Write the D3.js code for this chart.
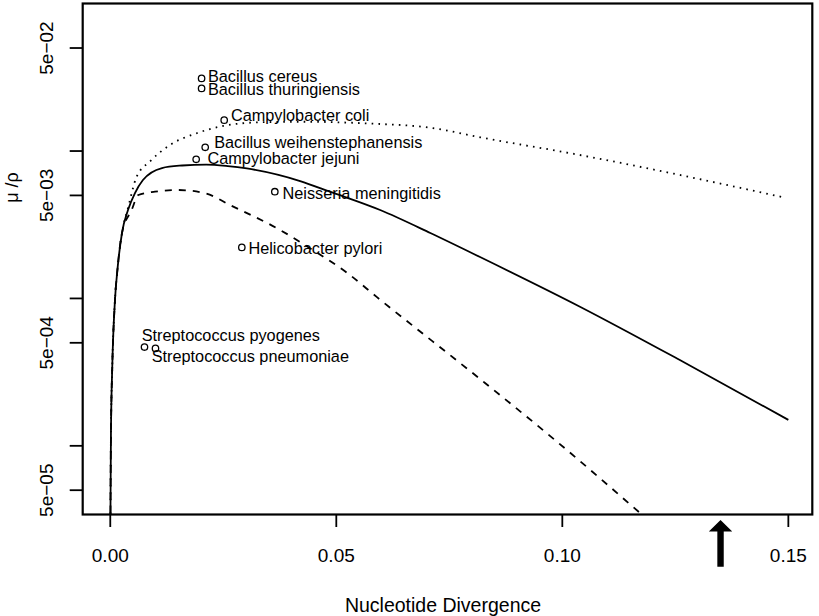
<!DOCTYPE html>
<html><head><meta charset="utf-8">
<script src="https://cdn.jsdelivr.net/npm/d3@7"></script>
<style>body{margin:0;background:#fff} svg{display:block}</style>
</head><body><svg id="c" width="819" height="616"></svg>
<script>
// ---- data ----
const solidDiv   = [0.00004,0.00015,0.00044,0.00104,0.00164,0.00259,0.00392,0.00546,0.00723,0.01144,0.0159,0.0212,0.0260,0.0302,0.0420,0.0486,0.0597,0.0708,0.0818,0.1039,0.1260,0.15];
const solidRatio = [3.45e-5,1.22e-4,3.43e-4,9.75e-4,1.63e-3,2.78e-3,3.98e-3,5.19e-3,6.36e-3,7.67e-3,7.98e-3,8.10e-3,7.91e-3,7.62e-3,6.26e-3,5.30e-3,3.98e-3,2.78e-3,1.91e-3,8.79e-4,3.82e-4,1.50e-4];

const dashedDiv   = [0.00004,0.00015,0.00044,0.00104,0.00164,0.00259,0.00473,0.0062,0.00989,0.01498,0.021,0.0265,0.0376,0.0448,0.0524,0.059,0.0829,0.0983,0.1172];
const dashedRatio = [3.45e-5,1.22e-4,3.43e-4,9.75e-4,1.63e-3,2.78e-3,3.98e-3,5.03e-3,5.30e-3,5.44e-3,5.17e-3,4.30e-3,2.91e-3,2.13e-3,1.49e-3,1.02e-3,2.67e-4,1.10e-4,3.50e-5];

const dottedDiv   = [0.00004,0.00015,0.00044,0.00104,0.00164,0.00259,0.00392,0.00584,0.00878,0.01321,0.01912,0.02493,0.03378,0.0420,0.0568,0.0714,0.0818,0.1039,0.1260,0.1492];
const dottedRatio = [3.45e-5,1.22e-4,3.43e-4,9.75e-4,1.63e-3,2.78e-3,4.1e-3,6.7e-3,8.5e-3,1.10e-2,1.32e-2,1.48e-2,1.57e-2,1.58e-2,1.54e-2,1.43e-2,1.24e-2,9.40e-3,6.88e-3,4.83e-3];

const speciesNames = ["Bacillus cereus","Bacillus thuringiensis","Campylobacter coli","Bacillus weihenstephanensis","Campylobacter jejuni","Neisseria meningitidis","Helicobacter pylori","Streptococcus pyogenes","Streptococcus pneumoniae"];
const speciesDiv   = [0.0202,0.0202,0.0252,0.0210,0.0190,0.0364,0.0291,0.00757,0.0100];
const speciesRatio = [3.11e-2,2.66e-2,1.62e-2,1.06e-2,8.79e-3,5.30e-3,2.22e-3,4.68e-4,4.58e-4];

const xTicks = [0,0.05,0.10,0.15];
const xTickLabels = ["0.00","0.05","0.10","0.15"];
const yTicks = [5e-2,1e-2,5e-3,1e-3,5e-4,1e-4,5e-5];
const yTickLabels = ["5e\u221202","","5e\u221203","","5e\u221204","","5e\u221205"];
const arrowDiv = 0.135;
const xTitle = "Nucleotide Divergence";
const yTitle = "\u03bc /\u03c1";

// ---- layout (label offsets in px relative to the point) ----
const labelOffsets = [[6.3,-1.8],[6.3,0.9],[6.7,-5],[9,-5.6],[11.3,-1],[7.7,1],[6.6,1],[-2.8,-12],[-3.8,8]];

const svg = d3.select("#c");
const L = 82.7, R = 812.3, T = 3.5, B = 514.5;
const x = d3.scaleLinear().domain([-0.0061, 0.1553]).range([L, R]);
const y = d3.scaleLog().domain([Math.pow(10,-4.4659), Math.pow(10,-0.999)]).range([B, T]);
const font = "'Liberation Sans', Arial, sans-serif";

svg.append("defs").append("clipPath").attr("id","clip")
  .append("rect").attr("x",L).attr("y",T).attr("width",R-L).attr("height",B-T);

const line = d3.line().x(d=>x(d[0])).y(d=>y(d[1])).curve(d3.curveMonotoneX);
const zip = (a,b)=>a.map((v,i)=>[v,b[i]]);
const g = svg.append("g").attr("clip-path","url(#clip)");
g.append("path").attr("d", line(zip(dottedDiv,dottedRatio))).attr("fill","none").attr("stroke","#000")
  .attr("stroke-width",1.8).attr("stroke-dasharray","1.6,5.2");
g.append("path").attr("d", line(zip(dashedDiv,dashedRatio))).attr("fill","none").attr("stroke","#000")
  .attr("stroke-width",1.8).attr("stroke-dasharray","7,7");
g.append("path").attr("d", line(zip(solidDiv,solidRatio))).attr("fill","none").attr("stroke","#000")
  .attr("stroke-width",1.8);

// points
svg.append("g").selectAll("circle").data(speciesNames).join("circle")
  .attr("cx",(d,i)=>x(speciesDiv[i])).attr("cy",(d,i)=>y(speciesRatio[i])).attr("r",3.2)
  .attr("fill","none").attr("stroke","#000").attr("stroke-width",1.3);
svg.append("g").selectAll("text").data(speciesNames).join("text")
  .attr("x",(d,i)=>x(speciesDiv[i])+labelOffsets[i][0])
  .attr("y",(d,i)=>y(speciesRatio[i])+labelOffsets[i][1])
  .attr("dy","0.36em").attr("font-family",font).attr("font-size",16.3).attr("fill","#000")
  .text(d=>d);

// box
svg.append("rect").attr("x",L).attr("y",T).attr("width",R-L).attr("height",B-T)
  .attr("fill","none").attr("stroke","#000").attr("stroke-width",2.2);

// x axis
const xa = svg.append("g");
xa.selectAll("line").data(xTicks).join("line")
  .attr("x1",d=>x(d)).attr("x2",d=>x(d)).attr("y1",B).attr("y2",B+12.5)
  .attr("stroke","#000").attr("stroke-width",1.8);
xa.selectAll("text").data(xTicks).join("text")
  .attr("x",d=>x(d)).attr("y",561.7).attr("text-anchor","middle")
  .attr("font-family",font).attr("font-size",19).text((d,i)=>xTickLabels[i]);
svg.append("text").attr("x",443).attr("y",611.7).attr("text-anchor","middle")
  .attr("font-family",font).attr("font-size",19.5).text(xTitle);

// y axis
const ya = svg.append("g");
ya.selectAll("line").data(yTicks).join("line")
  .attr("x1",L).attr("x2",L-13).attr("y1",d=>y(d)).attr("y2",d=>y(d))
  .attr("stroke","#000").attr("stroke-width",1.8);
ya.selectAll("text").data(yTicks).join("text")
  .attr("transform",d=>`translate(53.3,${y(d)}) rotate(-90)`).attr("text-anchor","middle")
  .attr("font-family",font).attr("font-size",19).text((d,i)=>yTickLabels[i]);
svg.append("text").attr("transform","translate(18,187.5) rotate(-90)").attr("text-anchor","middle")
  .attr("font-family",font).attr("font-size",18).text(yTitle);

// arrow
const ax = x(arrowDiv);
svg.append("path")
  .attr("d",`M${ax-3.2},566.7 L${ax-3.2},531.5 L${ax-11.7},531.5 L${ax},520 L${ax+11.7},531.5 L${ax+3.2},531.5 L${ax+3.2},566.7 Z`)
  .attr("fill","#000");
</script></body></html>
